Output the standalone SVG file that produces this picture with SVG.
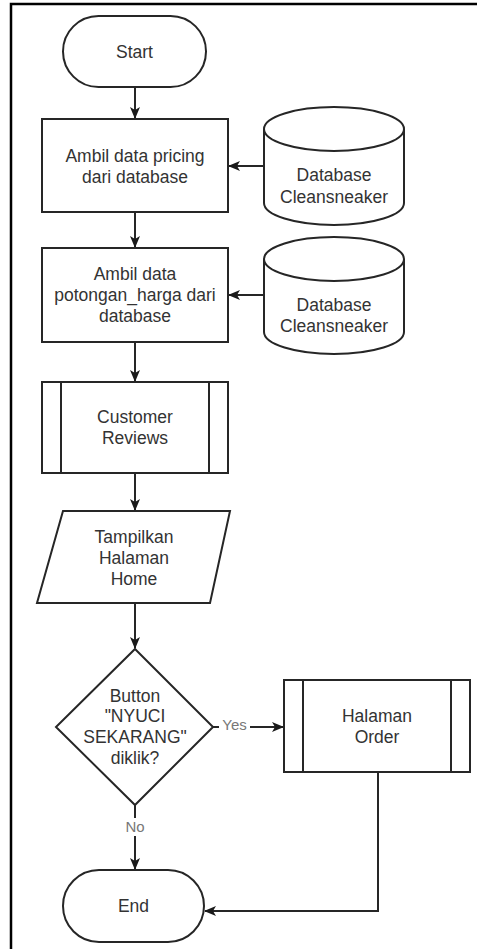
<svg xmlns="http://www.w3.org/2000/svg" width="477" height="949" viewBox="0 0 477 949">
  <style>
    .shape { fill: #ffffff; stroke: #262626; stroke-width: 2; }
    .edge { fill: none; stroke: #262626; stroke-width: 2; }
    .txt { font-family: "Liberation Sans", Arial, sans-serif; font-size: 17.5px; fill: #333333; text-anchor: middle; }
    .lbl { font-family: "Liberation Sans", Arial, sans-serif; font-size: 15px; fill: #777777; text-anchor: middle; }
  </style>
  <defs>
    <marker id="arrow" viewBox="0 0 12 10" refX="11" refY="5" markerWidth="12" markerHeight="10" markerUnits="userSpaceOnUse" orient="auto">
      <path d="M0,0 L12,5 L0,10 L3,5 Z" fill="#1a1a1a"/>
    </marker>
  </defs>

  <rect width="477" height="949" fill="#ffffff"/>
  <!-- page frame (left and top edges) -->
  <path d="M11,949 V4 H477" fill="none" stroke="#000000" stroke-width="2.5"/>

  <g id="connectors">
    <path class="edge" d="M135,87 V118" marker-end="url(#arrow)"/>
    <path class="edge" d="M264,166 H229" marker-end="url(#arrow)"/>
    <path class="edge" d="M135,212 V247" marker-end="url(#arrow)"/>
    <path class="edge" d="M264,295 H229" marker-end="url(#arrow)"/>
    <path class="edge" d="M135,342 V381" marker-end="url(#arrow)"/>
    <path class="edge" d="M135,473 V510" marker-end="url(#arrow)"/>
    <path class="edge" d="M135,603 V648" marker-end="url(#arrow)"/>
    <path class="edge" d="M213,727 H283" marker-end="url(#arrow)"/>
    <path class="edge" d="M135,805 V869" marker-end="url(#arrow)"/>
    <path class="edge" d="M378,772 V911 H205" marker-end="url(#arrow)"/>
    <g id="label-yes">
      <rect x="219" y="716" width="31" height="18" fill="#ffffff"/>
      <text class="lbl" x="234.5" y="730">Yes</text>
    </g>
    <g id="label-no">
      <rect x="124" y="818" width="22" height="18" fill="#ffffff"/>
      <text class="lbl" x="135" y="832">No</text>
    </g>
  </g>

  <g id="start">
    <rect class="shape" x="63" y="16" width="143" height="71" rx="35.5" ry="35.5"/>
    <text class="txt" x="134.5" y="58">Start</text>
  </g>

  <g id="ambil-pricing">
    <rect class="shape" x="42" y="119" width="186" height="93"/>
    <text class="txt" x="135" y="162">Ambil data pricing</text>
    <text class="txt" x="135" y="183">dari database</text>
  </g>

  <g id="db-1">
    <path class="shape" d="M264,129 A70,22 0 0 1 404,129 V203 A70,22 0 0 1 264,203 Z"/>
    <path class="shape" fill="none" d="M264,129 A70,22 0 0 0 404,129"/>
    <text class="txt" x="334" y="181">Database</text>
    <text class="txt" x="334" y="203">Cleansneaker</text>
  </g>

  <g id="ambil-potongan">
    <rect class="shape" x="42" y="248" width="186" height="94"/>
    <text class="txt" x="135" y="280">Ambil data</text>
    <text class="txt" x="135" y="301">potongan_harga dari</text>
    <text class="txt" x="135" y="322">database</text>
  </g>

  <g id="db-2">
    <path class="shape" d="M264,259 A70,22 0 0 1 404,259 V332 A70,22 0 0 1 264,332 Z"/>
    <path class="shape" fill="none" d="M264,259 A70,22 0 0 0 404,259"/>
    <text class="txt" x="334" y="311">Database</text>
    <text class="txt" x="334" y="332">Cleansneaker</text>
  </g>

  <g id="customer-reviews">
    <rect class="shape" x="42" y="382" width="186" height="91"/>
    <path class="edge" d="M61,382 V473 M209,382 V473"/>
    <text class="txt" x="135" y="423">Customer</text>
    <text class="txt" x="135" y="444">Reviews</text>
  </g>

  <g id="tampilkan-home">
    <path class="shape" d="M63,511 H230 L210,603 H37 Z"/>
    <text class="txt" x="134" y="543">Tampilkan</text>
    <text class="txt" x="134" y="564">Halaman</text>
    <text class="txt" x="134" y="585">Home</text>
  </g>

  <g id="decision">
    <path class="shape" d="M135,649 L213,727 L135,805 L56,727 Z"/>
    <text class="txt" x="135" y="702">Button</text>
    <text class="txt" x="135" y="722">"NYUCI</text>
    <text class="txt" x="135" y="743">SEKARANG"</text>
    <text class="txt" x="135" y="764">diklik?</text>
  </g>

  <g id="halaman-order">
    <rect class="shape" x="284" y="680" width="186" height="92"/>
    <path class="edge" d="M303,680 V772 M451,680 V772"/>
    <text class="txt" x="377" y="722">Halaman</text>
    <text class="txt" x="377" y="743">Order</text>
  </g>

  <g id="end">
    <rect class="shape" x="63" y="870" width="141" height="72" rx="36" ry="36"/>
    <text class="txt" x="133.5" y="912">End</text>
  </g>
</svg>
